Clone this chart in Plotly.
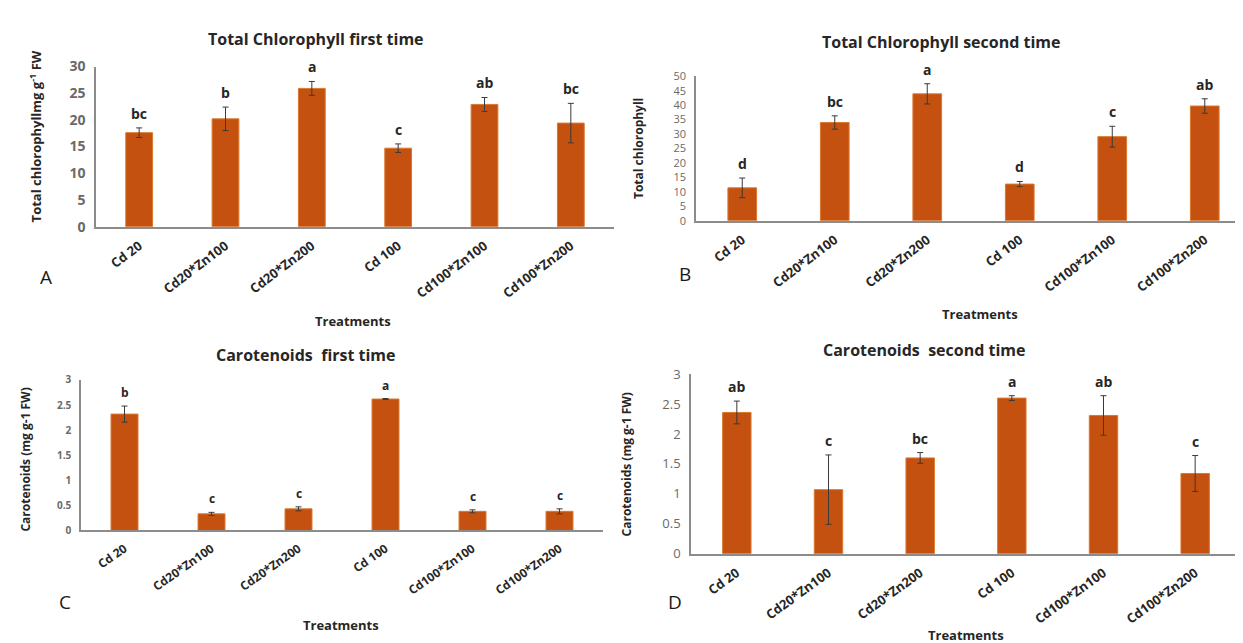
import plotly.graph_objects as go

W, H = 1243, 643

treatments = ["Cd 20", "Cd20*Zn100", "Cd20*Zn200", "Cd 100", "Cd100*Zn100", "Cd100*Zn200"]

chl1_values = [17.6, 20.2, 25.9, 14.7, 22.9, 19.4]
chl1_errors = [0.9, 2.2, 1.3, 0.8, 1.3, 3.7]
chl1_letters = ["bc", "b", "a", "c", "ab", "bc"]

chl2_values = [11.4, 34.0, 43.9, 12.7, 29.1, 39.7]
chl2_errors = [3.4, 2.3, 3.5, 0.9, 3.6, 2.5]
chl2_letters = ["d", "bc", "a", "d", "c", "ab"]

car1_values = [2.32, 0.33, 0.43, 2.62, 0.38, 0.38]
car1_errors = [0.16, 0.03, 0.04, 0.01, 0.03, 0.05]
car1_letters = ["b", "c", "c", "a", "c", "c"]

car2_values = [2.36, 1.07, 1.60, 2.60, 2.31, 1.34]
car2_errors = [0.19, 0.58, 0.09, 0.04, 0.33, 0.30]
car2_letters = ["ab", "c", "bc", "a", "ab", "c"]

BAR = "#C4510F"
FONT = "Open Sans"

panels = [
    dict(vals=chl1_values, errs=chl1_errors, letters=chl1_letters, x=(88, 606), y=(50, 215),
         rng=[0, 30], dtick=5, title="Total Chlorophyll first time", tpos=(308, 22),
         ytitle="Total chlorophyllmg g<sup>-1</sup> FW", ytpos=(27, 122), ytsize=13,
         tick_size=14, tick_weight="bold", xtick_size=13, angle=-37,
         letter="A", lpos=(38, 267), trt=(345, 312), lsize=14),
    dict(vals=chl2_values, errs=chl2_errors, letters=chl2_letters, x=(688, 1243), y=(60, 209),
         rng=[0, 50], dtick=5, title="Total Chlorophyll second time", tpos=(933, 25),
         ytitle="Total chlorophyll", ytpos=(630, 135), ytsize=12,
         tick_size=11, tick_weight="normal", xtick_size=13, angle=-37,
         letter="B", lpos=(677, 264), trt=(972, 305), lsize=14),
    dict(vals=car1_values, errs=car1_errors, letters=car1_letters, x=(73, 595), y=(373, 528),
         rng=[0, 3], dtick=0.5, title="Carotenoids  first time", tpos=(298, 347),
         ytitle="Carotenoids (mg g-1 FW)", ytpos=(18, 455), ytsize=12,
         tick_size=10, tick_weight="bold", xtick_size=12, angle=-35,
         letter="C", lpos=(57, 602), trt=(333, 625), lsize=12),
    dict(vals=car2_values, errs=car2_errors, letters=car2_letters, x=(683, 1233), y=(367, 552),
         rng=[0, 3], dtick=0.5, title="Carotenoids  second time", tpos=(916, 342),
         ytitle="Carotenoids (mg g-1 FW)", ytpos=(618, 460), ytsize=12,
         tick_size=13, tick_weight="normal", xtick_size=13, angle=-36,
         letter="D", lpos=(667, 602), trt=(958, 636), lsize=14),
]

fig = go.Figure()
annotations = []
layout = {}

for i, p in enumerate(panels, start=1):
    xa = "x" if i == 1 else f"x{i}"
    ya = "y" if i == 1 else f"y{i}"
    fig.add_trace(go.Bar(
        x=treatments, y=p["vals"], xaxis=xa, yaxis=ya,
        marker=dict(color=BAR, line=dict(color="#D9782F", width=1)),
        width=0.31,
        error_y=dict(type="data", array=p["errs"], visible=True, color="#3a3a3a", thickness=1, width=3),
        showlegend=False,
    ))
    xdom = [p["x"][0] / W, p["x"][1] / W]
    ydom = [1 - p["y"][1] / H, 1 - p["y"][0] / H]
    xkey = "xaxis" if i == 1 else f"xaxis{i}"
    ykey = "yaxis" if i == 1 else f"yaxis{i}"
    layout[xkey] = dict(domain=xdom, anchor=ya, showline=True, linecolor="#8c8c8c", linewidth=1.5,
                        ticks="", showgrid=False, tickangle=p["angle"], ticklabelstandoff=5,
                        tickfont=dict(family=FONT, size=p["xtick_size"], color="#262626", weight="bold"),
                        fixedrange=True)
    layout[ykey] = dict(domain=ydom, anchor=xa, range=p["rng"], dtick=p["dtick"], showline=True,
                        linecolor="#8c8c8c", linewidth=1.5, ticks="", showgrid=False, zeroline=False,
                        ticklabelstandoff=6,
                        tickfont=dict(family=FONT, size=p["tick_size"], color="#6a6a6a",
                                      weight=p["tick_weight"]),
                        fixedrange=True)
    for t, v, e, l in zip(treatments, p["vals"], p["errs"], p["letters"]):
        annotations.append(dict(x=t, y=v + e, xref=xa, yref=ya, text=l, showarrow=False,
                                yanchor="bottom", yshift=3,
                                font=dict(family=FONT, size=p["lsize"], color="#262626", weight="bold")))
    annotations.append(dict(x=p["tpos"][0] / W, y=1 - p["tpos"][1] / H, xref="paper", yref="paper",
                            text=p["title"], showarrow=False, xanchor="center", yanchor="middle",
                            font=dict(family=FONT, size=16, color="#262626", weight="bold")))
    annotations.append(dict(x=p["ytpos"][0] / W, y=1 - p["ytpos"][1] / H, xref="paper", yref="paper",
                            text=p["ytitle"], showarrow=False, textangle=-90, xanchor="center", yanchor="middle",
                            font=dict(family=FONT, size=p["ytsize"], color="#262626", weight="bold")))
    annotations.append(dict(x=p["lpos"][0] / W, y=1 - p["lpos"][1] / H, xref="paper", yref="paper",
                            text=p["letter"], showarrow=False, xanchor="center", yanchor="middle",
                            font=dict(family=FONT, size=19, color="#1a1a1a")))
    annotations.append(dict(x=p["trt"][0] / W, y=1 - p["trt"][1] / H, xref="paper", yref="paper",
                            text="Treatments", showarrow=False, xanchor="center", yanchor="middle",
                            font=dict(family=FONT, size=13, color="#262626", weight="bold")))

fig.update_layout(**layout)
fig.update_layout(width=W, height=H, margin=dict(l=0, r=0, t=0, b=0),
                  paper_bgcolor="white", plot_bgcolor="white",
                  annotations=annotations, bargap=0.69)
fig.write_html("out.html")
